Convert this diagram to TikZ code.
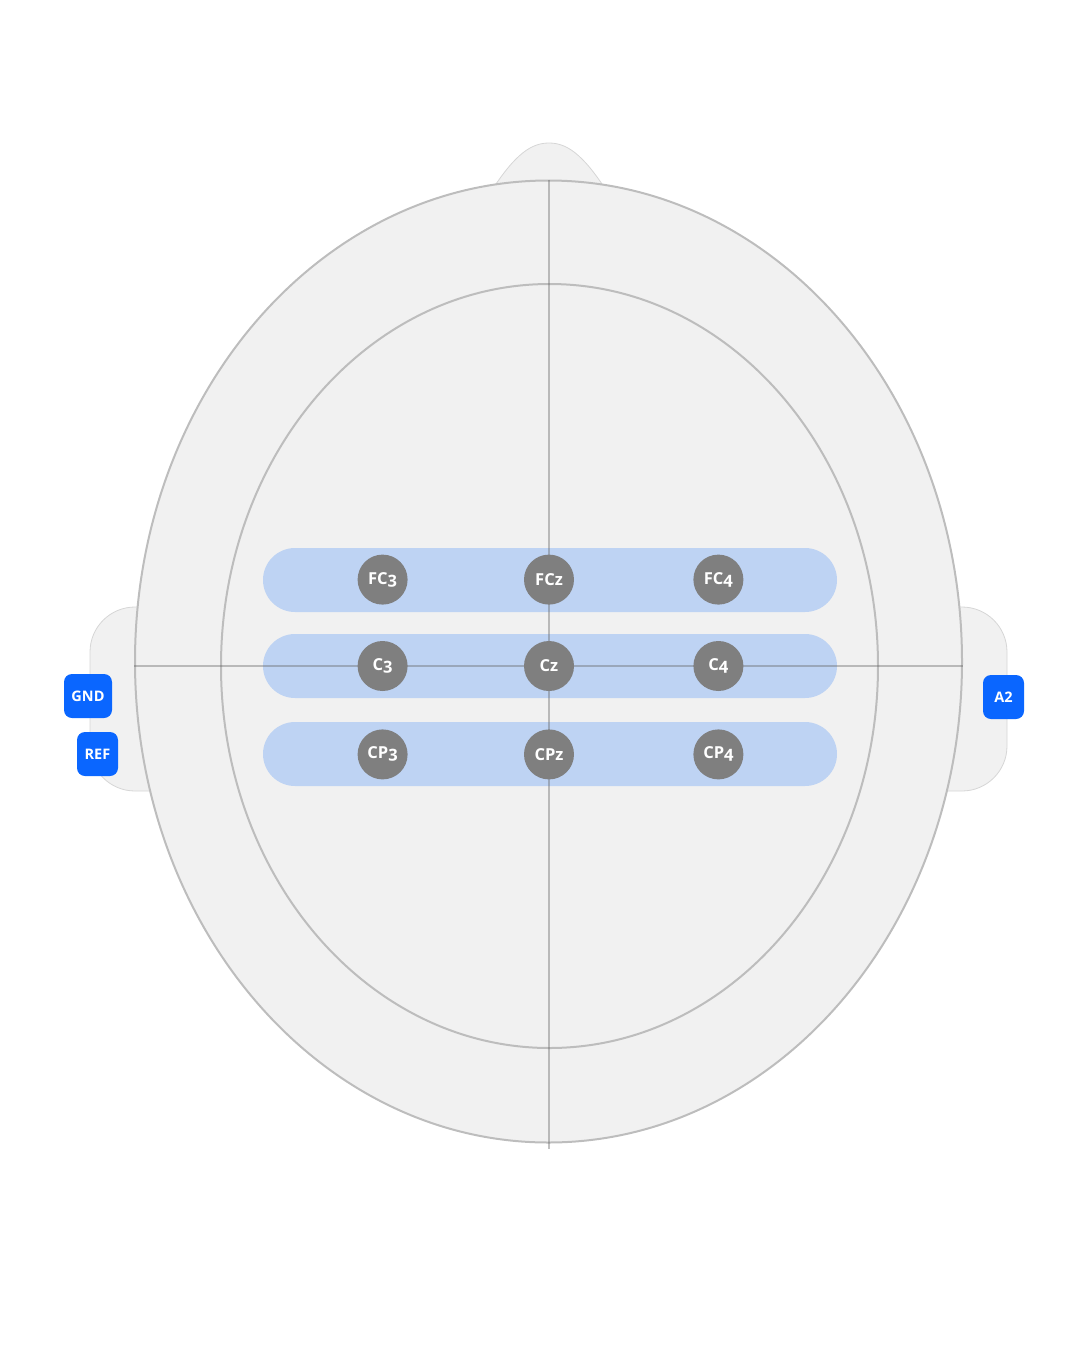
\documentclass[tikz,border=0pt]{standalone}
\usepackage{fontspec}
\setmainfont{Open Sans}
\newfontfamily\elfont{Open Sans}[Numbers=OldStyle]
\usetikzlibrary{shapes.geometric, positioning, backgrounds}

\definecolor{headfill}{HTML}{F1F1F1}
\definecolor{headline}{HTML}{BDBDBD}
\definecolor{earline}{HTML}{D6D6D6}
\definecolor{bandblue}{HTML}{BED3F3}
\definecolor{electrodegray}{HTML}{7F7F7F}
\definecolor{tagblue}{HTML}{0A66FF}
\definecolor{axisgray}{HTML}{656565}

\begin{document}
\begin{tikzpicture}[
    x=1pt, y=-1pt,
    skull/.style={ellipse, draw=headline, line width=2pt, fill=headfill, inner sep=0pt},
    ear/.style={draw=earline, line width=0.8pt, fill=headfill, rounded corners=45pt},
    band/.style={rectangle, rounded corners=32pt, fill=bandblue, inner sep=0pt, minimum width=574pt, minimum height=64pt},
    axis/.style={draw=axisgray, draw opacity=0.4, line width=2pt},
    electrode/.style={circle, fill=electrodegray, text=white, inner sep=0pt, minimum size=50pt, font=\elfont\bfseries\fontsize{16.5}{19}\selectfont},
    tagbox/.style={rectangle, rounded corners=8pt, fill=tagblue, text=white, inner sep=0pt, minimum height=44pt, font=\bfseries\fontsize{14.5}{17}\selectfont},
    node distance=36pt and 116pt
]

\useasboundingbox (0,0) rectangle (1080,1350);

% Ears and nose (behind the head)
\draw[ear] (90,607) rectangle (210,791);
\draw[ear] (890,607) rectangle (1007,791);
\draw[draw=earline, line width=0.8pt, fill=headfill] (492,190) .. controls (516,153) and (532,143) .. (549,143) .. controls (566,143) and (582,153) .. (606,190);

% Head outlines
\node[skull, minimum width=827pt, minimum height=962pt] (head) at (548.5,661.5) {};
\node[skull, minimum width=657pt, minimum height=764pt] (scalp) at (549.5,666) {};

% Electrode rows
\node[band] (frontrow) at (550,580) {};
\node[band] (midrow) at (550,666) {};
\node[band] (backrow) at (550,754) {};

% Midline and ear-to-ear line
\draw[axis] (head.north) -- ([yshift=-5pt]head.south);
\draw[axis] (head.west |- scalp.center) -- (head.east |- scalp.center);

% Electrodes
\node[electrode] (cz) at (549,666) {Cz};
\node[electrode, left=of cz] (c3) {C3};
\node[electrode, right=119pt of cz] (c4) {C4};
\node[electrode, above=of cz] (fcz) {FCz};
\node[electrode, above=of c3] (fc3) {FC3};
\node[electrode, above=of c4] (fc4) {FC4};
\node[electrode, below=38pt of cz] (cpz) {CPz};
\node[electrode, below=38pt of c3] (cp3) {CP3};
\node[electrode, below=38pt of c4] (cp4) {CP4};

% Ground, reference and A2 tags
\node[tagbox, minimum width=48pt] (gnd) at (88,696) {GND};
\node[tagbox, minimum width=41pt] (refe) at (97.5,754) {REF};
\node[tagbox, minimum width=41pt] (atwo) at (1003.5,697) {A2};

\end{tikzpicture}
\end{document}
